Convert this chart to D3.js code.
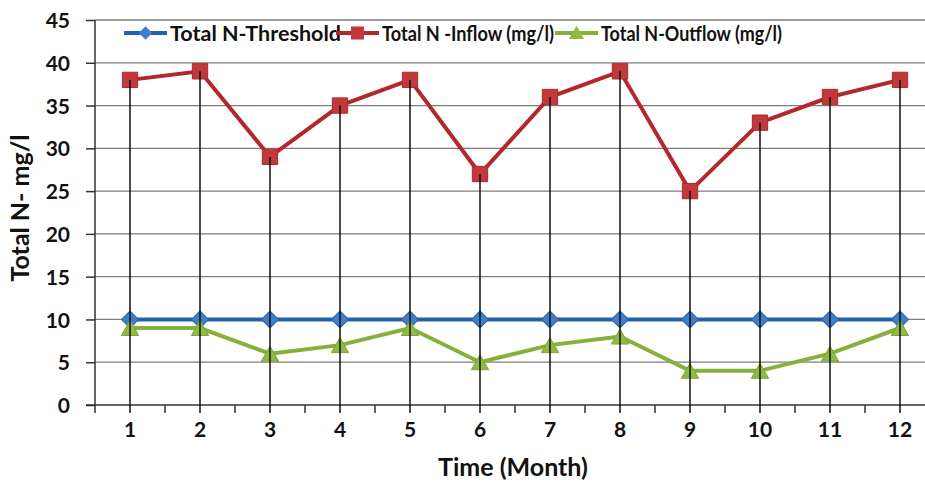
<!DOCTYPE html>
<html>
<head>
<meta charset="utf-8">
<script src="https://cdn.jsdelivr.net/npm/d3@7"></script>
<style>
  html, body { margin: 0; padding: 0; background: #fff; }
  svg { display: block; }
  text { font-family: Lato, "Open Sans", sans-serif; font-weight: bold; fill: #111; }
</style>
</head>
<body>
<svg id="chart" width="925" height="483"></svg>
<script>
// Monthly total nitrogen (mg/l)
const months = [1, 2, 3, 4, 5, 6, 7, 8, 9, 10, 11, 12];
const threshold = [10, 10, 10, 10, 10, 10, 10, 10, 10, 10, 10, 10];
const inflow = [38, 39, 29, 35, 38, 27, 36, 39, 25, 33, 36, 38];
const outflow = [9, 9, 6, 7, 9, 5, 7, 8, 4, 4, 6, 9];
const yTicks = [0, 5, 10, 15, 20, 25, 30, 35, 40, 45];

const seriesNames = ["Total N-Threshold", "Total N -Inflow (mg/l)", "Total N-Outflow (mg/l)"];

const W = 925, H = 483;
const margin = { left: 95, top: 20, bottom: 78 };
const plotRight = 935; // last band runs past the frame edge

const svg = d3.select("#chart");

const x = d3.scaleBand().domain(months).range([margin.left, plotRight]).padding(0);
const cx = m => x(m) + x.bandwidth() / 2;
const y = d3.scaleLinear().domain([0, 45]).range([H - margin.bottom, margin.top]);

// horizontal gridlines
svg.append("g")
  .selectAll("line")
  .data(yTicks.filter(t => t > 0))
  .join("line")
  .attr("x1", margin.left).attr("x2", W)
  .attr("y1", d => y(d)).attr("y2", d => y(d))
  .attr("stroke", "#7d7d7d").attr("stroke-width", 1.3);

// y axis
const yAxis = svg.append("g")
  .attr("transform", `translate(${margin.left},0)`)
  .call(d3.axisLeft(y).tickValues(yTicks).tickSize(9).tickPadding(16));
yAxis.select(".domain").attr("stroke", "#333").attr("stroke-width", 1.5)
  .attr("d", `M0,${y(45)}V${y(0) + 8}`);
yAxis.selectAll(".tick line").attr("stroke", "#333").attr("stroke-width", 1.5);
yAxis.selectAll(".tick text").attr("font-size", 21).attr("font-family", "Lato, sans-serif")
  .attr("font-weight", "bold").attr("fill", "#111").attr("dy", "0.36em");

// x axis: ticks sit on the band boundaries, labels in the band centres
const xAxisG = svg.append("g").attr("transform", `translate(0,${y(0)})`);
xAxisG.append("line")
  .attr("x1", margin.left - 9).attr("x2", W)
  .attr("stroke", "#333").attr("stroke-width", 1.5);
xAxisG.selectAll("line.tk")
  .data(months.slice(1))
  .join("line").attr("class", "tk")
  .attr("x1", d => x(d)).attr("x2", d => x(d))
  .attr("y1", 0).attr("y2", 8)
  .attr("stroke", "#333").attr("stroke-width", 1.5);
xAxisG.selectAll("text")
  .data(months)
  .join("text")
  .attr("x", d => cx(d)).attr("y", 32)
  .attr("text-anchor", "middle")
  .attr("font-size", 21)
  .text(d => d);

// series lines
const line = d3.line().x((d, i) => cx(months[i])).y(d => y(d));
const colors = { thr: "#2461ad", inf: "#b3282c", out: "#86b03a" };

svg.append("path").datum(threshold).attr("d", line)
  .attr("fill", "none").attr("stroke", colors.thr).attr("stroke-width", 4);
svg.append("path").datum(inflow).attr("d", line)
  .attr("fill", "none").attr("stroke", colors.inf).attr("stroke-width", 4);
svg.append("path").datum(outflow).attr("d", line)
  .attr("fill", "none").attr("stroke", colors.out).attr("stroke-width", 4);

// markers
const diamond = d3.symbol().type(d3.symbolSquare).size(144);
const square = d3.symbol().type(d3.symbolSquare).size(235);
const tri = d3.symbol().type(d3.symbolTriangle).size(130);

function drawMarkers(vals, sym, fill, stroke, rot, dy) {
  svg.append("g").selectAll("path")
    .data(vals)
    .join("path")
    .attr("d", sym)
    .attr("transform", (d, i) => `translate(${cx(months[i])},${y(d) + (dy || 0)}) rotate(${rot || 0})`)
    .attr("fill", fill).attr("stroke", stroke).attr("stroke-width", 1);
}
drawMarkers(threshold, diamond, "#3f7fc8", "#2a64ac", 45);
drawMarkers(inflow, square, "#c1393c", "#a92a2d", 0);
drawMarkers(outflow, tri, "#8fbb45", "#7ea53a", 0, 2.5);

// drop lines from the inflow points to the axis
svg.append("g").selectAll("line")
  .data(inflow)
  .join("line")
  .attr("x1", (d, i) => cx(months[i])).attr("x2", (d, i) => cx(months[i]))
  .attr("y1", d => y(d)).attr("y2", y(0) + 8)
  .attr("stroke", "#111").attr("stroke-width", 1.5);

// legend
const legend = svg.append("g").attr("transform", "translate(0,33)");
const legItems = [
  { name: seriesNames[0], tx: 170, w: 171, color: colors.thr, sym: d3.symbol().type(d3.symbolSquare).size(90), fill: "#3f7fc8", rot: 45, dy: 0 },
  { name: seriesNames[1], tx: 382, w: 172, color: colors.inf, sym: d3.symbol().type(d3.symbolSquare).size(170), fill: "#c1393c", rot: 0, dy: 0 },
  { name: seriesNames[2], tx: 601, w: 181, color: colors.out, sym: d3.symbol().type(d3.symbolTriangle).size(100), fill: "#8fbb45", rot: 0, dy: 1.5 }
];
legItems.forEach(it => {
  const g = legend.append("g");
  g.append("line").attr("x1", it.tx - 46).attr("x2", it.tx - 3)
    .attr("stroke", it.color).attr("stroke-width", 4);
  g.append("path").attr("d", it.sym).attr("fill", it.fill)
    .attr("transform", `translate(${it.tx - 24.5},${it.dy}) rotate(${it.rot})`);
  g.append("text").attr("x", it.tx).attr("y", 8).attr("font-size", 21)
    .attr("textLength", it.w).attr("lengthAdjust", "spacingAndGlyphs")
    .text(it.name);
});

// axis titles
svg.append("text")
  .attr("transform", `translate(29,208) rotate(-90)`)
  .attr("text-anchor", "middle").attr("font-size", 25)
  .text("Total N- mg/l");
svg.append("text")
  .attr("x", 513).attr("y", 476)
  .attr("text-anchor", "middle").attr("font-size", 25)
  .text("Time (Month)");
</script>
</body>
</html>
